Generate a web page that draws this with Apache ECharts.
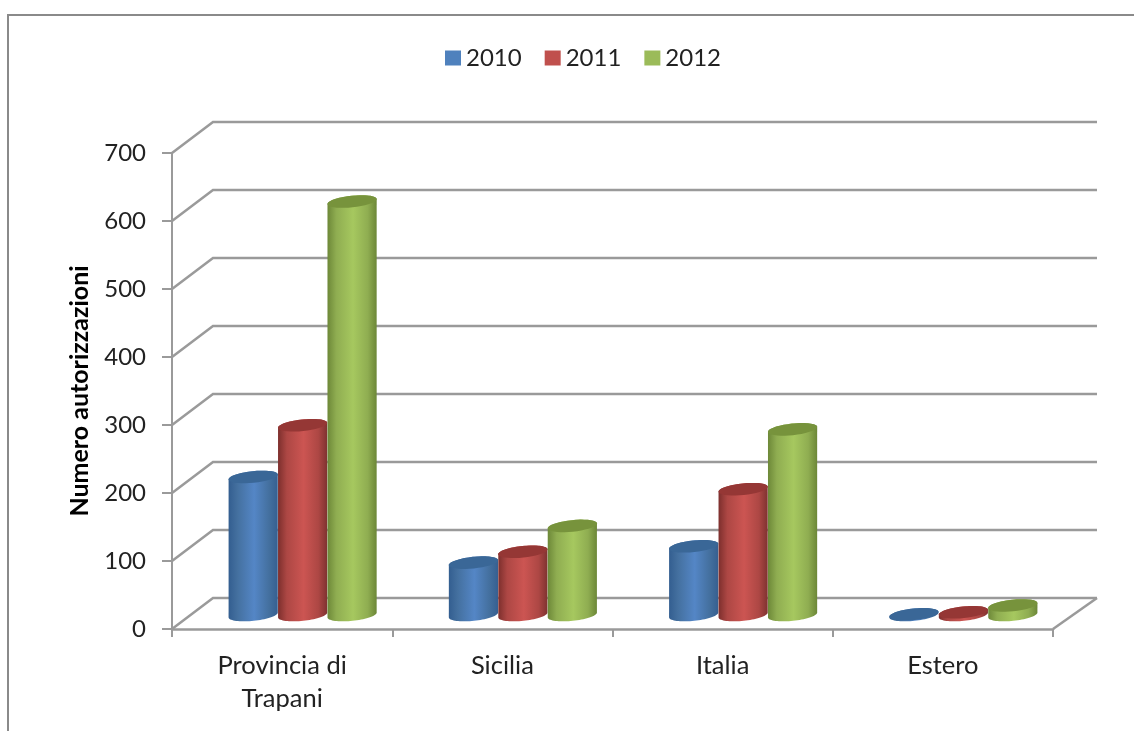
<!DOCTYPE html>
<html>
<head>
<meta charset="utf-8">
<style>html,body{margin:0;padding:0;background:#fff}#c{width:1134px;height:731px;filter:blur(0.45px)}</style>
<script src="https://cdn.jsdelivr.net/npm/echarts@6/dist/echarts.min.js"></script>
</head>
<body>
<div id="c"></div>
<script>
const categories = ['Provincia di\nTrapani', 'Sicilia', 'Italia', 'Estero'];
const ticks = [0, 100, 200, 300, 400, 500, 600, 700];
const values2010 = [203, 77, 101, 1];
const values2011 = [279, 93, 185, 4];
const values2012 = [608, 131, 273, 14];

const DEPTH_X = 41, DEPTH_Y = 31, BASE_OFFSET = 14, BAR_RATIO = 0.2245, TILT = -6 * Math.PI / 180, RY = 5.8;
const FONT = 'Lato';
const GRID_COLOR = '#9a9a9a';

function grad(stops) {
  return { type: 'linear', x: 0, y: 0, x2: 1, y2: 0,
    colorStops: stops.map((c, i) => ({ offset: [0, 0.18, 0.52, 0.82, 1][i], color: c })) };
}
const palette = [
  { name: '2010', data: values2010, solid: '#4f81bd', body: grad(['#335e90', '#44709f', '#5486c6', '#44709f', '#365f90']), top: '#3a6797' },
  { name: '2011', data: values2011, solid: '#c0504d', body: grad(['#7d2f2d', '#ad4744', '#cc5552', '#ad4744', '#7f3230']), top: '#953735' },
  { name: '2012', data: values2012, solid: '#9bbb59', body: grad(['#6d8838', '#8fad51', '#a6c85f', '#8fad51', '#6c8737']), top: '#77933c' }
];

function ellipseArc(cx, cy, rx, from, to) {
  const pts = [];
  for (let k = 0; k <= 36; k++) {
    const t = from + (to - from) * k / 36;
    const ex = rx * Math.cos(t), ey = RY * Math.sin(t);
    pts.push([cx + ex * Math.cos(TILT) - ey * Math.sin(TILT), cy + ex * Math.sin(TILT) + ey * Math.cos(TILT)]);
  }
  return pts;
}

function cylinder(seriesIndex, cfg) {
  return function (params, api) {
    const cat = api.value(0), val = api.value(1);
    const top = api.coord([cat, val]), base = api.coord([cat, 0]);
    const band = api.size([1, 0])[0];
    const w = band * BAR_RATIO;
    const cx = top[0] + DEPTH_X / 2 + (seriesIndex - 1) * w;
    const yT = top[1] - BASE_OFFSET, yB = base[1] - BASE_OFFSET;
    const rx = w / 2;
    const bodyPts = ellipseArc(cx, yB, rx, 0, Math.PI).concat(ellipseArc(cx, yT, rx, Math.PI, 2 * Math.PI));
    return { type: 'group', children: [
      { type: 'polygon', shape: { points: bodyPts }, style: { fill: cfg.body } },
      { type: 'polygon', shape: { points: ellipseArc(cx, yT, rx, 0, 2 * Math.PI) }, style: { fill: cfg.top } }
    ] };
  };
}

function wallLine(params, api) {
  const v = api.value(1);
  const p = api.coord([0, v]);
  const cs = params.coordSys;
  const x0 = cs.x, x1 = cs.x + cs.width, y = p[1];
  const style = { stroke: GRID_COLOR, lineWidth: 2.5, fill: 'none' };
  const children = [{ type: 'polyline', shape: { points: [[x0, y], [x0 + DEPTH_X, y - DEPTH_Y], [x1 + DEPTH_X + 3, y - DEPTH_Y]] }, style }];
  if (v === 0) {
    children.push({ type: 'polyline', shape: { points: [[x1, y], [x1 + DEPTH_X + 3, y - DEPTH_Y]] }, style });
  }
  return { type: 'group', children };
}

const chart = echarts.init(document.getElementById('c'), null, { renderer: 'canvas' });
chart.setOption({
  animation: false,
  backgroundColor: '#fff',
  textStyle: { fontFamily: FONT },
  graphic: [{ type: 'rect', z: -10, silent: true,
    shape: { x: 8, y: 15, width: 1300, height: 900 },
    style: { fill: 'none', stroke: '#8a8a8a', lineWidth: 2 } }],
  legend: {
    data: palette.map(p => p.name),
    left: 440, top: 41,
    icon: 'rect', itemWidth: 16, itemHeight: 15, itemGap: 23, itemStyle: { borderWidth: 0 },
    selectedMode: false,
    textStyle: { fontFamily: FONT, fontSize: 24, color: '#222' }
  },
  grid: { left: 172, right: 81, top: 153, bottom: 102 },
  xAxis: {
    type: 'category', data: categories,
    axisLine: { show: true, lineStyle: { color: GRID_COLOR, width: 2.5 } },
    axisTick: { show: true, length: 8, alignWithLabel: false, lineStyle: { color: GRID_COLOR, width: 2 } },
    axisLabel: { color: '#222', fontFamily: FONT, fontSize: 25.5, margin: 20, lineHeight: 33, interval: 0 },
    splitLine: { show: false }
  },
  yAxis: {
    type: 'value', min: 0, max: 700, interval: 100,
    name: 'Numero autorizzazioni', nameLocation: 'middle', nameGap: 80, nameRotate: 90,
    nameTextStyle: { fontFamily: FONT, fontSize: 25, fontWeight: 'bold', color: '#000' },
    axisLine: { show: true, lineStyle: { color: GRID_COLOR, width: 2 } },
    axisTick: { show: true, length: 10, lineStyle: { color: GRID_COLOR, width: 2 } },
    axisLabel: { color: '#222', fontFamily: FONT, fontSize: 24, margin: 26 },
    splitLine: { show: false }
  },
  series: [
    { type: 'custom', name: 'walls', silent: true, z: 1,
      data: ticks.map(t => [0, t]), encode: { x: 0, y: 1 }, renderItem: wallLine }
  ].concat(palette.map((p, i) => ({
    type: 'custom', name: p.name, z: 2 + i, silent: true,
    itemStyle: { color: p.solid },
    data: p.data.map((v, c) => [c, v]), encode: { x: 0, y: 1 },
    renderItem: cylinder(i, p)
  })))
});
</script>
</body>
</html>
